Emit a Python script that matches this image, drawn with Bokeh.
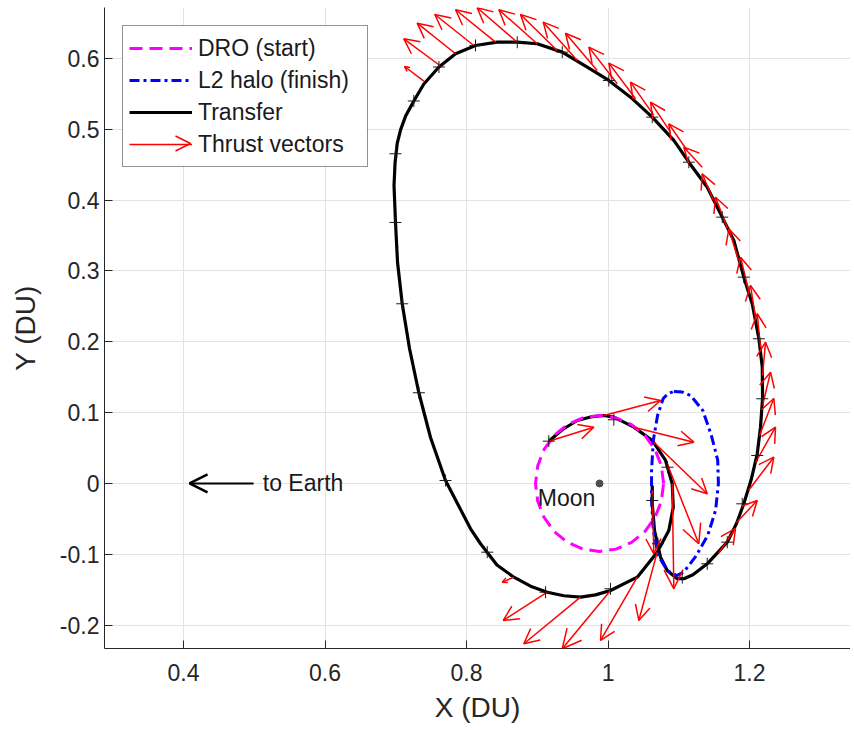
import math
from bokeh.plotting import figure
from bokeh.models import (Range1d, FixedTicker, Arrow, OpenHead, ColumnDataSource,
                          Legend, LegendItem, Label)
from bokeh.embed import file_html
from bokeh.resources import INLINE

FONT = "Liberation Sans"
INK = "#262626"

# ---------------- data ----------------
x_ticks = [0.4, 0.6, 0.8, 1.0, 1.2, 1.4]
x_tick_labels = ["0.4", "0.6", "0.8", "1", "1.2", "1.4"]
y_ticks = [-0.2, -0.1, 0.0, 0.1, 0.2, 0.3, 0.4, 0.5, 0.6]
y_tick_labels = ["-0.2", "-0.1", "0", "0.1", "0.2", "0.3", "0.4", "0.5", "0.6"]

moon_x = [0.988]
moon_y = [0.0]

# DRO (start)
dro_x = [1.0785, 1.0754, 1.0664, 1.0520, 1.0333, 1.0114, 0.9880, 0.9646, 0.9427, 0.9240,
         0.9096, 0.9006, 0.8975, 0.9006, 0.9096, 0.9240, 0.9427, 0.9646, 0.9880, 1.0114,
         1.0333, 1.0520, 1.0664, 1.0754, 1.0785]
dro_y = [0.0, 0.0249, 0.0480, 0.0679, 0.0831, 0.0927, 0.0960, 0.0927, 0.0831, 0.0679,
         0.0480, 0.0249, 0.0, -0.0249, -0.0480, -0.0679, -0.0831, -0.0927, -0.0960, -0.0927,
         -0.0831, -0.0679, -0.0480, -0.0249, 0.0]

# L2 halo (finish)
halo_x = [1.093, 1.105, 1.117, 1.134, 1.146, 1.155, 1.156, 1.152, 1.141, 1.124, 1.107,
          1.097, 1.084, 1.071, 1.064, 1.0615, 1.0615, 1.064, 1.070, 1.078, 1.085, 1.093]
halo_y = [0.130, 0.129, 0.124, 0.103, 0.068, 0.033, 0.000, -0.038, -0.073, -0.103, -0.125,
          -0.130, -0.123, -0.102, -0.066, -0.024, 0.018, 0.061, 0.096, 0.120, 0.127, 0.130]

# Transfer trajectory
transfer_pts = [
    (0.9163, 0.0597), (0.9357, 0.0762), (0.9565, 0.0889), (0.9753, 0.0939), (0.9941, 0.0960),
    (1.0082, 0.0936), (1.0365, 0.0795), (1.0625, 0.0607), (1.0813, 0.0325), (1.0907, -0.0004),
    (1.0922, -0.0335), (1.0859, -0.0664), (1.0695, -0.0970), (1.0413, -0.1323), (1.0035, -0.1511),
    (0.9823, -0.1573), (0.9611, -0.1605), (0.9375, -0.1585), (0.9141, -0.1535), (0.8905, -0.1450),
    (0.8669, -0.1323), (0.8430, -0.1150), (0.8198, -0.0851), (0.8057, -0.0640),
    (0.7703, 0.0042), (0.7491, 0.0649), (0.7326, 0.1281), (0.7194, 0.1906), (0.7091, 0.2537),
    (0.7025, 0.3120), (0.6996, 0.3685), (0.6975, 0.4207), (0.6990, 0.4530), (0.7020, 0.4800),
    (0.7070, 0.5000), (0.7140, 0.5190), (0.7255, 0.5400), (0.7397, 0.5640), (0.7610, 0.5880),
    (0.7845, 0.6067), (0.8127, 0.6184), (0.8434, 0.6230), (0.8717, 0.6230), (0.8999, 0.6208),
    (0.9353, 0.6090), (0.9706, 0.5877), (1.0011, 0.5690), (1.0318, 0.5454), (1.0625, 0.5172),
    (1.0930, 0.4843), (1.1142, 0.4536), (1.1402, 0.4183), (1.1614, 0.3760), (1.1778, 0.3431),
    (1.1919, 0.2913), (1.2038, 0.2537), (1.2132, 0.2043), (1.2180, 0.1642), (1.2184, 0.1200),
    (1.2155, 0.0795), (1.2109, 0.0419), (1.2028, 0.0071), (1.1919, -0.0287), (1.1816, -0.0565),
    (1.1685, -0.0829), (1.1402, -0.1134), (1.1200, -0.1290), (1.1071, -0.1345), (1.0978, -0.1345),
    (1.0837, -0.1228), (1.0742, -0.1041), (1.0657, -0.0664), (1.0625, -0.0287), (1.0625, -0.0028),
]
transfer_x = [p[0] for p in transfer_pts]
transfer_y = [p[1] for p in transfer_pts]

# Segment nodes ("+")
node_pts = [
    (0.6996, 0.4655), (0.7255, 0.5400), (0.7610, 0.5880), (0.8127, 0.6184), (0.8717, 0.6230),
    (0.9353, 0.6090), (1.0011, 0.5690), (1.0625, 0.5172), (1.1142, 0.4536), (1.1614, 0.3760),
    (1.1919, 0.2913), (1.2132, 0.2043), (1.2180, 0.1196), (1.2109, 0.0395), (1.1897, -0.0287),
    (1.1685, -0.0829), (1.1402, -0.1134), (1.1049, -0.1330), (1.0705, -0.0851), (1.0625, -0.0240),
    (1.0841, 0.0230), (1.0082, 0.0899), (1.0035, -0.1487), (0.9117, -0.1535), (0.8293, -0.0970),
    (0.7703, 0.0042), (0.7326, 0.1281), (0.7091, 0.2537), (0.6996, 0.3685), (0.9163, 0.0597),
]
node_x = [p[0] for p in node_pts]
node_y = [p[1] for p in node_pts]

# Thrust vectors: tail (x0, y0) -> head (x1, y1)
thrust_x0 = [0.7397, 0.7623, 0.7845, 0.8103, 0.8410, 0.8717, 0.8999, 0.9282, 0.9565, 0.9847,
             1.0130, 1.0389, 1.0647, 1.0883, 1.1119, 1.1331,
             1.1491, 1.1689, 1.1845, 1.1986, 1.2085, 1.2155, 1.2184, 1.2184, 1.2141, 1.2085,
             1.1986, 1.1816, 1.1562,
             0.9163, 0.9941, 1.0365, 1.0647, 1.0837, 1.0907, 1.0625, 1.0695, 1.0413, 1.0035,
             0.9611, 0.9141, 0.8669]
thrust_y0 = [0.5680, 0.5901, 0.6067, 0.6184, 0.6230, 0.6230, 0.6208, 0.6113, 0.5972, 0.5831,
             0.5643, 0.5431, 0.5196, 0.4960, 0.4701, 0.4466,
             0.3995, 0.3600, 0.3148, 0.2725, 0.2330, 0.1920, 0.1525, 0.1101, 0.0678, 0.0296,
             -0.0099, -0.0551, -0.0988,
             0.0597, 0.0960, 0.0795, 0.0583, 0.0278, -0.0004, -0.0099, -0.0970, -0.1323, -0.1511,
             -0.1605, -0.1535, -0.1323]
thrust_x1 = [0.7124, 0.7114, 0.7303, 0.7552, 0.7845, 0.8151, 0.8457, 0.8763, 0.9084, 0.9399,
             0.9729, 1.0011, 1.0318, 1.0601, 1.0859, 1.1071,
             1.1331, 1.1519, 1.1707, 1.1873, 1.2014, 1.2109, 1.2226, 1.2297, 1.2343, 1.2367,
             1.2343, 1.2109, 1.1802,
             0.9799, 1.0742, 1.1213, 1.1402, 1.1283, 1.0930, 1.0647, 1.0435, 0.9894, 0.9353,
             0.8810, 0.8519, 0.8505]
thrust_y1 = [0.5887, 0.6278, 0.6499, 0.6621, 0.6688, 0.6716, 0.6688, 0.6621, 0.6513, 0.6357,
             0.6160, 0.5934, 0.5666, 0.5383, 0.5078, 0.4748,
             0.4372, 0.4042, 0.3596, 0.3195, 0.2795, 0.2396, 0.1995, 0.1571, 0.1200, 0.0795,
             0.0371, -0.0240, -0.0635,
             0.0795, 0.1172, 0.0583, -0.0145, -0.0851, -0.1487, -0.0993, -0.1934, -0.2217, -0.2334,
             -0.2263, -0.1934, -0.1393]

# annotation anchors
EARTH_ARROW_FROM = 0.499
EARTH_ARROW_TO = 0.4085
EARTH_TEXT_X = 0.512
MOON_TEXT_X = 0.9413
MOON_TEXT_Y = -0.021

# ---------------- figure ----------------
X0, X1 = 0.2883, 1.3427
Y0, Y1 = -0.2330, 0.6720
W, H = 850, 728
ML, MB, MT = 104, 80, 7

p = figure(width=W, height=H, x_range=Range1d(X0, X1), y_range=Range1d(Y0, Y1),
           output_backend="svg", toolbar_location=None, title=None,
           min_border_left=ML, min_border_right=0, min_border_top=MT, min_border_bottom=MB,
           x_axis_label="X (DU)", y_axis_label="Y (DU)")
p.background_fill_color = "white"
p.border_fill_color = "white"
p.outline_line_color = None

for ax in (p.xaxis[0], p.yaxis[0]):
    ax.axis_line_color = INK
    ax.axis_line_width = 1
    ax.major_tick_line_color = INK
    ax.major_tick_in = 8
    ax.major_tick_out = 0
    ax.minor_tick_line_color = None
    ax.major_label_text_font = FONT
    ax.major_label_text_font_size = "23px"
    ax.major_label_text_color = INK
    ax.axis_label_text_font = FONT
    ax.axis_label_text_font_size = "28px"
    ax.axis_label_text_font_style = "normal"
    ax.axis_label_text_color = INK

p.xaxis.ticker = FixedTicker(ticks=x_ticks)
p.yaxis.ticker = FixedTicker(ticks=y_ticks)
p.xaxis.major_label_overrides = dict(zip(x_ticks, x_tick_labels))
p.yaxis.major_label_overrides = dict(zip(y_ticks, y_tick_labels))
p.xaxis.major_label_standoff = 15
p.xaxis.axis_label_standoff = 8
p.yaxis.major_label_standoff = 5
p.yaxis.axis_label_standoff = 16
p.grid.grid_line_color = "#e3e3e3"
p.grid.grid_line_width = 1

sx = (W - ML) / (X1 - X0)
sy = (H - MB - MT) / (Y1 - Y0)

# legend geometry (screen px, relative to frame top-left)
LEG_MARGIN, LEG_PAD, LEG_GLYPH_W, LEG_ROW, LEG_LABEL_W, LEG_STANDOFF = 18, 6, 63, 32, 163, 6
leg_w = 2 * LEG_PAD + LEG_GLYPH_W + LEG_STANDOFF + LEG_LABEL_W
leg_h = 2 * LEG_PAD + 4 * LEG_ROW
# opaque white backing for the (transparent) legend box, drawn above the grid
p.quad(left=[X0 + LEG_MARGIN / sx], right=[X0 + (LEG_MARGIN + leg_w) / sx],
       top=[Y1 - LEG_MARGIN / sy], bottom=[Y1 - (LEG_MARGIN + leg_h) / sy],
       fill_color="white", line_color=None)

r_tr = p.line(transfer_x, transfer_y, line_color="black", line_width=3.2, line_join="round")
r_dro = p.line(dro_x, dro_y, line_color="#ff00ff", line_width=3, line_dash="13 7")
r_halo = p.line(halo_x, halo_y, line_color="#0000ff", line_width=3, line_dash="10 4 3 4")
r_thr = p.segment(thrust_x0, thrust_y0, thrust_x1, thrust_y1, line_color="#ff0000", line_width=1.5)

# arrow heads, sized by on-screen arrow length (quiver-like)
groups = {5: ([], [], [], []), 15: ([], [], [], []), 19: ([], [], [], [])}
for a, b, c, d in zip(thrust_x0, thrust_y0, thrust_x1, thrust_y1):
    L = math.hypot((c - a) * sx, (d - b) * sy)
    key = 5 if L < 25 else (15 if L < 75 else 19)
    g = groups[key]
    g[0].append(a); g[1].append(b); g[2].append(c); g[3].append(d)
for size, g in groups.items():
    if not g[0]:
        continue
    src = ColumnDataSource(dict(x0=g[0], y0=g[1], x1=g[2], y1=g[3]))
    p.add_layout(Arrow(end=OpenHead(size=size, line_color="#ff0000", line_width=1.5),
                       x_start="x0", y_start="y0", x_end="x1", y_end="y1",
                       source=src, line_alpha=0))

p.scatter(node_x, node_y, marker="cross", size=12, line_color="#1a1a1a", line_width=1)
p.scatter(moon_x, moon_y, size=7, fill_color="#4d4d4d", line_color="#4d4d4d")

p.add_layout(Label(x=MOON_TEXT_X, y=MOON_TEXT_Y, text="Moon", text_align="center",
                   text_baseline="middle", text_font=FONT, text_font_size="23px",
                   text_color="#1a1a1a"))
p.add_layout(Arrow(end=OpenHead(size=18, line_color="black", line_width=2.5),
                   x_start=EARTH_ARROW_FROM, y_start=0.0, x_end=EARTH_ARROW_TO, y_end=0.0,
                   line_color="black", line_width=2))
p.add_layout(Label(x=EARTH_TEXT_X, y=0.0, text="to Earth", text_align="left",
                   text_baseline="middle", text_font=FONT, text_font_size="23px",
                   text_color="#1a1a1a"))

# arrow head on the legend's "Thrust vectors" swatch (position derived from legend layout)
tip_px = LEG_MARGIN + LEG_PAD + LEG_GLYPH_W - 1
tip_py = LEG_MARGIN + LEG_PAD + 3.5 * LEG_ROW
leg_tip_x = X0 + tip_px / sx
leg_tip_y = Y1 - tip_py / sy
p.add_layout(Arrow(end=OpenHead(size=15, line_color="#ff0000", line_width=1.5),
                   x_start=leg_tip_x - 20 / sx, y_start=leg_tip_y,
                   x_end=leg_tip_x, y_end=leg_tip_y, line_alpha=0))

legend = Legend(items=[LegendItem(label="DRO (start)", renderers=[r_dro]),
                       LegendItem(label="L2 halo (finish)", renderers=[r_halo]),
                       LegendItem(label="Transfer", renderers=[r_tr]),
                       LegendItem(label="Thrust vectors", renderers=[r_thr])],
                location="top_left")
legend.margin = LEG_MARGIN
legend.padding = LEG_PAD
legend.spacing = 0
legend.glyph_width = LEG_GLYPH_W
legend.glyph_height = LEG_ROW
legend.label_height = LEG_ROW
legend.label_width = LEG_LABEL_W
legend.label_standoff = LEG_STANDOFF
legend.label_text_font = FONT
legend.label_text_font_size = "23px"
legend.label_text_color = "#1a1a1a"
legend.border_line_color = INK
legend.border_line_width = 1
legend.background_fill_color = "white"
legend.background_fill_alpha = 0.0
p.add_layout(legend)

open("out.html", "w").write(file_html(p, INLINE))
